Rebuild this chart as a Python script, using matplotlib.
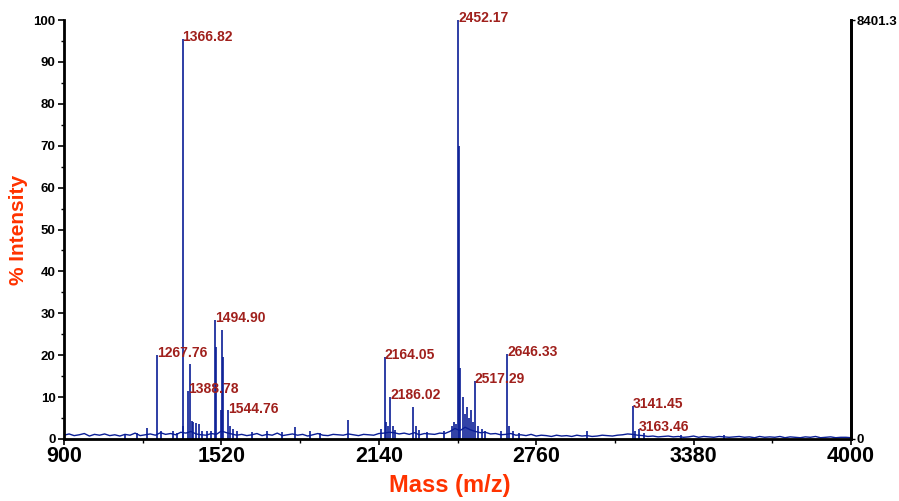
import numpy as np
import matplotlib.pyplot as plt

# --- spectrum data ---
# baseline / noise trace, one value every 20 Da from 900 to 4000
noise_mz = np.arange(900, 4001, 20)
noise_int = [
    0.9, 1.2, 0.8, 1.0, 1.3, 0.7, 1.1, 0.9, 1.2, 0.8, 1.0,
    0.7, 1.1, 0.9, 1.4, 0.8, 1.0, 1.2, 0.9, 1.5, 1.1, 1.3,
    1.0, 1.6, 1.4, 1.8, 1.2, 1.0, 0.9, 1.3, 1.1, 1.9, 1.5,
    1.2, 0.9, 1.1, 0.8, 1.0, 1.3, 0.8, 1.1, 0.9, 1.4, 0.8,
    1.0, 1.2, 0.9, 1.1, 0.7, 1.0, 1.3, 0.9, 0.8, 1.1, 1.0,
    0.9, 1.2, 1.0, 0.8, 1.1, 1.0, 0.9, 1.3, 1.4, 1.6, 1.5,
    1.2, 1.4, 1.1, 1.5, 1.0, 1.3, 1.2, 1.1, 1.4, 1.3, 1.8,
    2.5, 2.0, 2.8, 2.2, 1.8, 1.5, 1.6, 1.2, 1.3, 1.0, 1.1,
    1.3, 0.9, 1.0, 0.8, 1.1, 0.7, 0.9, 0.8, 0.6, 0.9, 0.7,
    0.8, 0.6, 0.9, 0.7, 0.8, 0.6, 0.7, 0.9, 0.8, 0.7, 0.9,
    1.0, 1.2, 1.1, 0.9, 0.8, 0.6, 0.7, 0.5, 0.6, 0.7, 0.5,
    0.6, 0.4, 0.5, 0.7, 0.4, 0.6, 0.5, 0.4, 0.6, 0.5, 0.4,
    0.5, 0.6, 0.4, 0.5, 0.3, 0.6, 0.4, 0.5, 0.4, 0.6, 0.3,
    0.5, 0.4, 0.3, 0.5, 0.4, 0.6, 0.3, 0.4, 0.5, 0.3, 0.4,
    0.4, 0.3,
]

# centroid peaks (m/z, % intensity)
peak_mz = [1140, 1186, 1227, 1267.76, 1283, 1330, 1345, 1366.82, 1370,
           1388.78, 1395, 1403, 1410, 1418, 1430, 1445, 1465, 1480,
           1494.90, 1500, 1518, 1522, 1528, 1544.76, 1555, 1565, 1580,
           1640, 1700, 1760, 1810, 1870, 1910, 2019,
           2150, 2164.05, 2170, 2178, 2186.02, 2196, 2205, 2273, 2285, 2300,
           2330, 2395, 2430, 2437, 2444, 2452.17, 2455, 2460, 2472, 2480,
           2487, 2495, 2502, 2510, 2517.29, 2530, 2545, 2560, 2620,
           2646.33, 2652, 2670, 2693, 2960, 3141.45, 3150, 3163.46, 3185,
           3330, 3500]
peak_int = [1.3, 1.5, 2.6, 20.0, 2.0, 1.8, 1.5, 95.5, 3.0,
            11.5, 18.0, 4.2, 4.0, 3.8, 3.5, 2.0, 1.8, 2.0,
            28.4, 22.0, 7.0, 26.0, 19.5, 6.8, 3.0, 2.5, 2.0,
            1.6, 1.8, 1.7, 2.8, 2.0, 1.5, 4.5,
            2.5, 19.6, 4.0, 3.0, 10.0, 3.0, 2.2, 7.6, 3.0, 2.2,
            1.7, 2.0, 3.0, 4.0, 3.5, 100.0, 70.0, 17.0, 10.0, 6.0,
            7.6, 5.0, 6.8, 4.0, 13.8, 3.0, 2.5, 2.0, 2.0,
            20.3, 3.0, 2.0, 1.5, 1.8, 7.9, 2.0, 2.4, 1.5,
            1.0, 0.9]

labels = ["1366.82", "2452.17", "1494.90", "1267.76", "1388.78", "1544.76",
          "2164.05", "2186.02", "2517.29", "2646.33", "3141.45", "3163.46"]

x_ticks = [900, 1520, 2140, 2760, 3380, 4000]
max_counts = 8401.3

blue = "#0A1E96"
red_lab = "#A0201C"
orange = "#FF3300"
font = "Liberation Sans"

fig = plt.figure(figsize=(8.99, 5.01), dpi=100)
ax = fig.add_axes([0.0712, 0.1238, 0.8754, 0.8362])

ax.plot(noise_mz, noise_int, color=blue, lw=1.0)
ax.vlines(peak_mz, 0, peak_int, color=blue, lw=1.2)

for lab in labels:
    m = float(lab)
    h = peak_int[peak_mz.index(m)]
    ax.annotate(lab, (m, h), xytext=(0, -1.5), textcoords="offset points",
                ha="left", va="baseline", color=red_lab, fontsize=10,
                fontweight="bold", family=font)

ax.set_xlim(900, 4000)
ax.set_ylim(0, 100)
ax.set_xticks(x_ticks)
ax.set_xticks([1210, 1830, 2450, 3070, 3690], minor=True)
ax.set_yticks(range(0, 101, 10))
ax.set_yticks(range(5, 100, 10), minor=True)

for lbl in ax.get_xticklabels():
    lbl.set_fontsize(15.5)
    lbl.set_fontweight("bold")
    lbl.set_family(font)
for lbl in ax.get_yticklabels():
    lbl.set_fontsize(9.5)
    lbl.set_fontweight("bold")
    lbl.set_family(font)

ax.tick_params(axis="x", which="major", direction="out", length=4, width=1.2, pad=1)
ax.tick_params(axis="x", which="minor", direction="out", length=3, width=1.0)
ax.tick_params(axis="y", which="major", direction="out", length=4, width=1.2, pad=2)
ax.tick_params(axis="y", which="minor", direction="out", length=2, width=1.0)

ax.spines["top"].set_visible(False)
for s in ["left", "bottom", "right"]:
    ax.spines[s].set_linewidth(2.0)

# right axis with absolute counts
ax2 = ax.twinx()
ax2.set_ylim(0, max_counts)
ax2.set_yticks([0, max_counts])
ax2.set_yticklabels(["0", "8401.3"], fontsize=9.5, fontweight="bold", family=font)
ax2.tick_params(axis="y", direction="out", length=3, width=1.0, pad=1)
ax2.spines["top"].set_visible(False)
ax2.spines["right"].set_linewidth(2.0)

ax.set_ylabel("% Intensity", color=orange, fontsize=15, fontweight="bold",
              family=font, labelpad=4)
fig.text(0.5, 0.03, "Mass (m/z)", color=orange, fontsize=17, fontweight="bold",
         family=font, ha="center", va="center")

fig.savefig("out.png", dpi=100)
